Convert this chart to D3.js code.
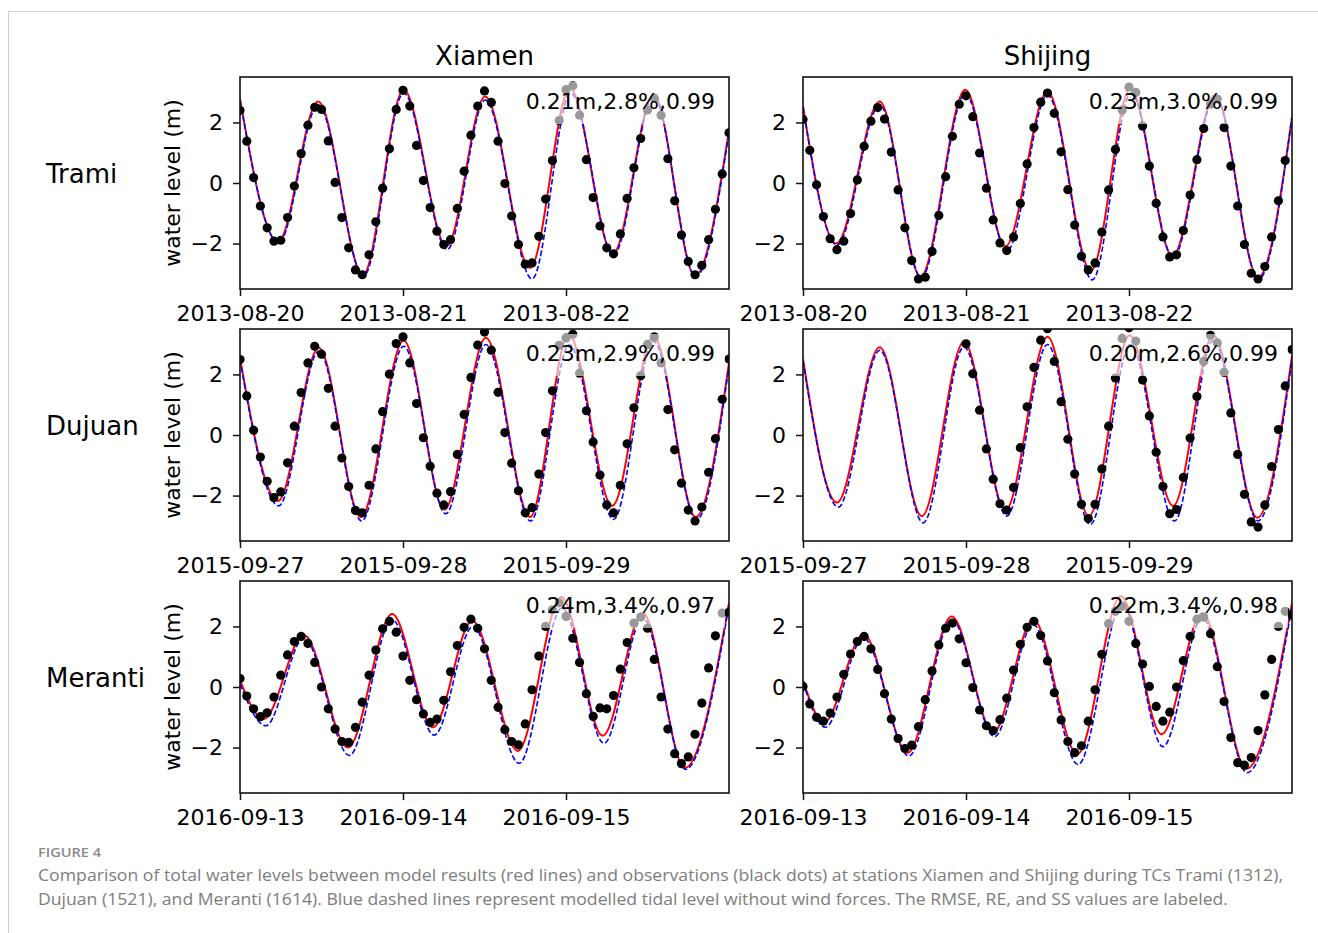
<!DOCTYPE html>
<html>
<head>
<meta charset="utf-8">
<script src="https://cdn.jsdelivr.net/npm/d3@7"></script>
<style>
  body { margin: 0; background: #fff; }
  svg { display: block; }
</style>
</head>
<body>
<div id="chart"></div>
<script>
// panel rows / columns
const stations = ["Xiamen", "Shijing"];
const storms = ["Trami", "Dujuan", "Meranti"];
const startDays = ["2013-08-20", "2015-09-27", "2016-09-13"];
const statLabels = [
  ["0.21m,2.8%,0.99", "0.23m,3.0%,0.99"],
  ["0.23m,2.9%,0.99", "0.20m,2.6%,0.99"],
  ["0.24m,3.4%,0.97", "0.22m,3.4%,0.98"]
];
const yTicks = [-2, 0, 2];

// hourly observed water level (m), hour 0..72 from the start day
const obsXiamenTrami = [
  2.39, 1.38, 0.18, -0.76, -1.48, -1.92, -1.89, -1.14, -0.10, 0.97,
  1.91, 2.50, 2.43, 1.39, 0.02, -1.14, -2.14, -2.87, -3.03, -2.37,
  -1.28, -0.17, 1.13, 2.43, 3.06, 2.54, 1.24, 0.08, -0.81, -1.59,
  -2.03, -1.87, -0.84, 0.39, 1.58, 2.54, 3.04, 2.66, 1.38, -0.02,
  -1.09, -2.03, -2.68, -2.64, -1.76, -0.53, 0.74, 2.06, 3.08, 3.21,
  2.24, 0.77, -0.48, -1.42, -2.14, -2.34, -1.68, -0.51, 0.50, 1.47,
  2.41, 2.80, 2.24, 0.80, -0.59, -1.72, -2.59, -3.03, -2.72, -1.87,
  -0.87, 0.30, 1.66
];
const obsShijingTrami = [
  2.10, 1.08, -0.06, -1.11, -1.84, -2.20, -1.92, -1.01, 0.10, 1.21,
  2.04, 2.49, 2.11, 1.02, -0.23, -1.48, -2.56, -3.17, -3.11, -2.26,
  -1.07, 0.21, 1.54, 2.60, 2.88, 2.19, 0.99, -0.17, -1.22, -1.98,
  -2.23, -1.78, -0.68, 0.63, 1.83, 2.67, 2.97, 2.30, 1.03, -0.22,
  -1.39, -2.42, -2.87, -2.64, -1.62, -0.23, 1.11, 2.41, 3.17, 2.99,
  1.88, 0.56, -0.67, -1.78, -2.44, -2.37, -1.57, -0.40, 0.77, 1.80,
  2.60, 2.77, 1.83, 0.56, -0.76, -2.03, -2.98, -3.17, -2.76, -1.78,
  -0.59, 0.74, null
];
const obsXiamenDujuan = [
  2.49, 1.29, 0.16, -0.73, -1.53, -2.07, -1.88, -0.92, 0.29, 1.40,
  2.38, 2.93, 2.67, 1.54, 0.29, -0.76, -1.70, -2.49, -2.57, -1.66,
  -0.46, 0.77, 2.01, 3.02, 3.24, 2.38, 1.04, -0.09, -1.03, -1.92,
  -2.31, -1.87, -0.64, 0.68, 1.90, 2.97, 3.40, 2.80, 1.41, 0.08,
  -0.93, -1.84, -2.57, -2.40, -1.29, 0.08, 1.46, 2.96, 3.20, 3.33,
  2.04, 0.80, -0.23, -1.32, -2.31, -2.57, -1.66, -0.29, 0.90, 1.96,
  2.99, 3.24, 2.38, 0.84, -0.49, -1.59, -2.48, -2.84, -2.38, -1.23,
  -0.12, 1.18, 2.51
];
const obsShijingDujuan = [
  null, null, null, null, null, null, null, null, null, null,
  null, null, null, null, null, null, null, null, null, null,
  null, null, null, null, 3.01, 2.02, 0.82, -0.46, -1.46, -2.27,
  -2.48, -1.73, -0.42, 0.93, 2.23, 3.13, 3.51, 2.43, 1.10, -0.14,
  -1.29, -2.29, -2.76, -2.29, -1.12, 0.29, 1.88, 3.19, 3.54, 3.10,
  1.82, 0.63, -0.57, -1.70, -2.60, -2.46, -1.40, -0.10, 1.27, 2.43,
  3.29, 3.04, 2.07, 0.73, -0.64, -1.96, -2.87, -3.04, -2.31, -1.04,
  0.18, 1.62, 2.82
];
const obsXiamenMeranti = [
  0.28, -0.30, -0.72, -0.98, -0.85, -0.33, 0.39, 1.06, 1.50, 1.67,
  1.44, 0.81, 0.00, -0.72, -1.39, -1.80, -1.83, -1.33, -0.50, 0.39,
  1.22, 1.92, 2.17, 1.81, 1.02, 0.22, -0.42, -0.89, -1.17, -1.06,
  -0.44, 0.50, 1.37, 1.97, 2.24, 1.94, 1.26, 0.22, -0.67, -1.41,
  -1.80, -1.91, -1.22, -0.09, 1.02, 2.00, 2.55, 2.78, 2.33, 1.61,
  0.81, -0.22, -0.97, -0.69, -0.72, -0.28, 0.59, 1.47, 2.11, 2.31,
  1.94, 0.91, -0.33, -1.39, -2.20, -2.53, -2.31, -1.56, -0.53, 0.63,
  1.69, 2.44, 2.47
];
const obsShijingMeranti = [
  0.02, -0.56, -1.00, -1.13, -0.86, -0.33, 0.42, 1.09, 1.50, 1.67,
  1.26, 0.58, -0.22, -1.06, -1.70, -2.03, -1.92, -1.31, -0.42, 0.53,
  1.39, 1.94, 2.11, 1.59, 0.80, -0.02, -0.76, -1.28, -1.44, -1.08,
  -0.37, 0.56, 1.41, 1.97, 2.17, 1.70, 0.86, -0.19, -1.09, -1.80,
  -2.17, -1.94, -1.13, -0.09, 1.08, 2.09, 2.50, 2.67, 2.17, 1.44,
  0.76, 0.02, -0.64, -1.13, -0.83, 0.00, 0.87, 1.67, 2.24, 2.31,
  1.76, 0.67, -0.48, -1.67, -2.50, -2.58, -2.33, -1.44, -0.26, 0.91,
  2.00, 2.50, 2.37
];

// model (red) and tide-only (blue) turning points: [hour, level]
const modelXiamenTrami = [[0, 2.77], [5.6, -1.95], [11.5, 2.69], [18.1, -3.03], [24.1, 3.08], [30.4, -2.09], [36.1, 2.86], [42.7, -2.81], [48.6, 3.13], [54.9, -2.34], [60.9, 2.91], [67, -3.06], [72, 1.74]];
const tideXiamenTrami = [[0, 2.74], [5.7, -1.98], [11.5, 2.58], [18.2, -3.08], [24.1, 2.97], [30.5, -2.2], [36.1, 2.74], [43, -3.17], [48.7, 2.97], [55, -2.38], [60.9, 2.85], [67.1, -3.1], [72, 1.69]];
const modelShijingTrami = [[0, 2.54], [4.9, -2.0], [11.3, 2.69], [17.3, -3.09], [23.9, 3.08], [29.8, -2.09], [36, 3.02], [42.4, -2.9], [48.2, 3.13], [54.4, -2.42], [60.7, 2.91], [67, -3.12], [72, 2.15]];
const tideShijingTrami = [[0, 2.5], [5, -2.05], [11.3, 2.58], [17.4, -3.12], [23.9, 2.95], [30, -2.26], [36, 2.9], [42.6, -3.2], [48.3, 2.97], [54.5, -2.45], [60.7, 2.85], [67.1, -3.17], [72, 2.2]];
const modelXiamenDujuan = [[0, 2.54], [5.6, -2.18], [11.6, 2.88], [17.8, -2.71], [24.1, 3.12], [30.1, -2.46], [36.2, 3.21], [42.7, -2.71], [48.4, 3.32], [54.8, -2.34], [60.9, 3.27], [67.1, -2.71], [72, 2.38]];
const tideXiamenDujuan = [[0, 2.5], [5.7, -2.34], [11.6, 2.77], [17.9, -2.84], [24.1, 2.93], [30.3, -2.6], [36.2, 2.99], [42.8, -2.84], [48.5, 2.99], [55, -2.79], [60.9, 3.1], [67.2, -2.8], [72, 2.3]];
const modelShijingDujuan = [[0, 2.51], [5, -2.23], [11.3, 2.9], [17.5, -2.68], [23.7, 3.08], [29.8, -2.49], [36, 3.24], [42.1, -2.68], [48.1, 3.29], [54.5, -2.34], [60.4, 3.29], [66.9, -2.73], [72, 2.6]];
const tideShijingDujuan = [[0, 2.45], [5.2, -2.38], [11.3, 2.8], [17.7, -2.9], [23.7, 2.91], [30, -2.68], [36, 2.99], [42.3, -2.96], [48.2, 2.99], [54.7, -2.84], [60.4, 3.13], [67, -2.84], [72, 2.5]];
const modelXiamenMeranti = [[0, 0.22], [3.5, -1.06], [9.4, 1.72], [15.9, -2.0], [22.4, 2.41], [28.4, -1.33], [34.2, 2.19], [40.9, -2.11], [47.3, 2.97], [53.4, -1.61], [59.3, 2.44], [65.5, -2.67], [72, 2.78]];
const tideXiamenMeranti = [[0, 0.1], [3.8, -1.28], [9.4, 1.61], [16.1, -2.26], [22.4, 2.22], [28.6, -1.59], [34.3, 2.0], [41.1, -2.52], [47.4, 2.61], [53.6, -1.86], [59.3, 2.28], [65.6, -2.72], [72, 2.7]];
const modelShijingMeranti = [[0, 0.22], [3.1, -1.17], [8.9, 1.74], [15.4, -2.17], [21.9, 2.33], [28, -1.5], [33.9, 2.22], [40.4, -2.22], [46.8, 3.0], [52.8, -1.56], [58.8, 2.44], [65.3, -2.7], [72, 2.78]];
const tideShijingMeranti = [[0, 0.15], [3.3, -1.33], [8.9, 1.61], [15.6, -2.28], [21.9, 2.22], [28.2, -1.64], [33.9, 2.06], [40.5, -2.56], [47, 2.72], [53, -1.97], [58.8, 2.28], [65.4, -2.83], [72, 2.67]];

const obsSets = {
  XiamenTrami: obsXiamenTrami, ShijingTrami: obsShijingTrami,
  XiamenDujuan: obsXiamenDujuan, ShijingDujuan: obsShijingDujuan,
  XiamenMeranti: obsXiamenMeranti, ShijingMeranti: obsShijingMeranti
};
const modelSets = {
  XiamenTrami: modelXiamenTrami, ShijingTrami: modelShijingTrami,
  XiamenDujuan: modelXiamenDujuan, ShijingDujuan: modelShijingDujuan,
  XiamenMeranti: modelXiamenMeranti, ShijingMeranti: modelShijingMeranti
};
const tideSets = {
  XiamenTrami: tideXiamenTrami, ShijingTrami: tideShijingTrami,
  XiamenDujuan: tideXiamenDujuan, ShijingDujuan: tideShijingDujuan,
  XiamenMeranti: tideXiamenMeranti, ShijingMeranti: tideShijingMeranti
};

const width = 1318;
const height = 933;
const colLeft = [240, 803];
const rowTop = [77, 329, 581];
const pw = 489;
const ph = 212;
const plotFont = "'DejaVu Sans', sans-serif";

const svg = d3.select('#chart')
  .append('svg')
  .attr('width', width)
  .attr('height', height);

// card border (top and left edges)
svg.append('path')
  .attr('d', `M8.5,${height} V11.5 H${width}`)
  .attr('fill', 'none')
  .attr('stroke', '#cfcfcf');

const hourToDate = (t0, h) => new Date(t0.getTime() + h * 3600e3);

storms.forEach((storm, r) => {
  const t0 = new Date(startDays[r] + 'T00:00:00Z');

  const x = d3.scaleUtc()
    .domain([t0, hourToDate(t0, 72)])
    .range([0, pw]);
  const y = d3.scaleLinear()
    .domain([-3.5, 3.5])
    .range([ph, 0]);

  // storm name on the left
  svg.append('text')
    .attr('x', 46)
    .attr('y', rowTop[r] + y(0))
    .style('font-family', plotFont)
    .style('font-size', '26px')
    .text(storm);

  stations.forEach((station, c) => {
    const key = station + storm;
    const g = svg.append('g')
      .attr('transform', `translate(${colLeft[c]},${rowTop[r]})`);

    const clipId = `clip-${r}-${c}`;
    g.append('clipPath').attr('id', clipId)
      .append('rect').attr('width', pw).attr('height', ph);

    const plot = g.append('g').attr('clip-path', `url(#${clipId})`);

    const line = d3.line()
      .x(d => x(hourToDate(t0, d[0])))
      .y(d => y(d[1]))
      .curve(d3.curveMonotoneX);

    plot.append('path')
      .datum(modelSets[key])
      .attr('d', line)
      .attr('fill', 'none')
      .attr('stroke', '#ff0000')
      .attr('stroke-width', 2);

    plot.append('path')
      .datum(tideSets[key])
      .attr('d', line)
      .attr('fill', 'none')
      .attr('stroke', '#0000ff')
      .attr('stroke-width', 1.6)
      .attr('stroke-dasharray', '5.5,2.5');

    const obs = obsSets[key]
      .map((v, h) => ({ h: h, v: v }))
      .filter(d => d.v !== null);

    plot.selectAll('.obs')
      .data(obs)
      .enter()
      .append('circle')
      .classed('obs', true)
      .attr('cx', d => x(hourToDate(t0, d.h)))
      .attr('cy', d => y(d.v))
      .attr('r', 4.6)
      .attr('fill', '#000');

    // stats label on a translucent white box
    g.append('rect')
      .attr('x', pw - 214)
      .attr('y', 5)
      .attr('width', 210)
      .attr('height', 42)
      .attr('fill', '#fff')
      .attr('fill-opacity', 0.6);

    g.append('text')
      .attr('x', pw - 14)
      .attr('y', 32)
      .attr('text-anchor', 'end')
      .style('font-family', plotFont)
      .style('font-size', '22px')
      .text(statLabels[r][c]);

    // axes
    const xAxis = d3.axisBottom(x)
      .tickValues(d3.range(3).map(d => d3.utcDay.offset(t0, d)))
      .tickFormat(d3.utcFormat('%Y-%m-%d'))
      .tickSize(7)
      .tickPadding(9);
    const yAxis = d3.axisLeft(y)
      .tickValues(yTicks)
      .tickFormat(d3.format('d'))
      .tickSize(7)
      .tickPadding(10);

    const gx = g.append('g')
      .attr('transform', `translate(0,${ph})`)
      .call(xAxis);
    const gy = g.append('g').call(yAxis);

    [gx, gy].forEach(a => {
      a.select('.domain').remove();
      a.selectAll('line').attr('stroke', '#111').attr('stroke-width', 1.5);
      a.selectAll('text')
        .attr('fill', '#000')
        .style('font-family', plotFont)
        .style('font-size', '22px');
    });

    g.append('rect')
      .attr('width', pw)
      .attr('height', ph)
      .attr('fill', 'none')
      .attr('stroke', '#111')
      .attr('stroke-width', 1.6);

    if (r === 0) {
      g.append('text')
        .attr('x', pw / 2)
        .attr('y', -12)
        .attr('text-anchor', 'middle')
        .style('font-family', plotFont)
        .style('font-size', '26px')
        .text(station);
    }
    if (c === 0) {
      g.append('text')
        .attr('transform', `translate(-60,${ph / 2}) rotate(-90)`)
        .attr('text-anchor', 'middle')
        .style('font-family', plotFont)
        .style('font-size', '22px')
        .text('water level (m)');
    }
  });
});

// caption
const captionFont = "'Open Sans', sans-serif";
svg.append('text')
  .attr('x', 38)
  .attr('y', 857)
  .attr('fill', '#8a8a8a')
  .attr('textLength', 63)
  .attr('lengthAdjust', 'spacingAndGlyphs')
  .style('font-family', captionFont)
  .style('font-size', '13px')
  .style('font-weight', 600)
  .text('FIGURE 4');

const captionLines = [
  'Comparison of total water levels between model results (red lines) and observations (black dots) at stations Xiamen and Shijing during TCs Trami (1312),',
  'Dujuan (1521), and Meranti (1614). Blue dashed lines represent modelled tidal level without wind forces. The RMSE, RE, and SS values are labeled.'
];
const captionWidths = [1245, 1190];

svg.selectAll('.caption')
  .data(captionLines)
  .enter()
  .append('text')
  .classed('caption', true)
  .attr('x', 38)
  .attr('y', (d, i) => 881 + i * 24)
  .attr('fill', '#7d7d7d')
  .attr('textLength', (d, i) => captionWidths[i])
  .attr('lengthAdjust', 'spacingAndGlyphs')
  .style('font-family', captionFont)
  .style('font-size', '15.5px')
  .text(d => d);
</script>
</body>
</html>
